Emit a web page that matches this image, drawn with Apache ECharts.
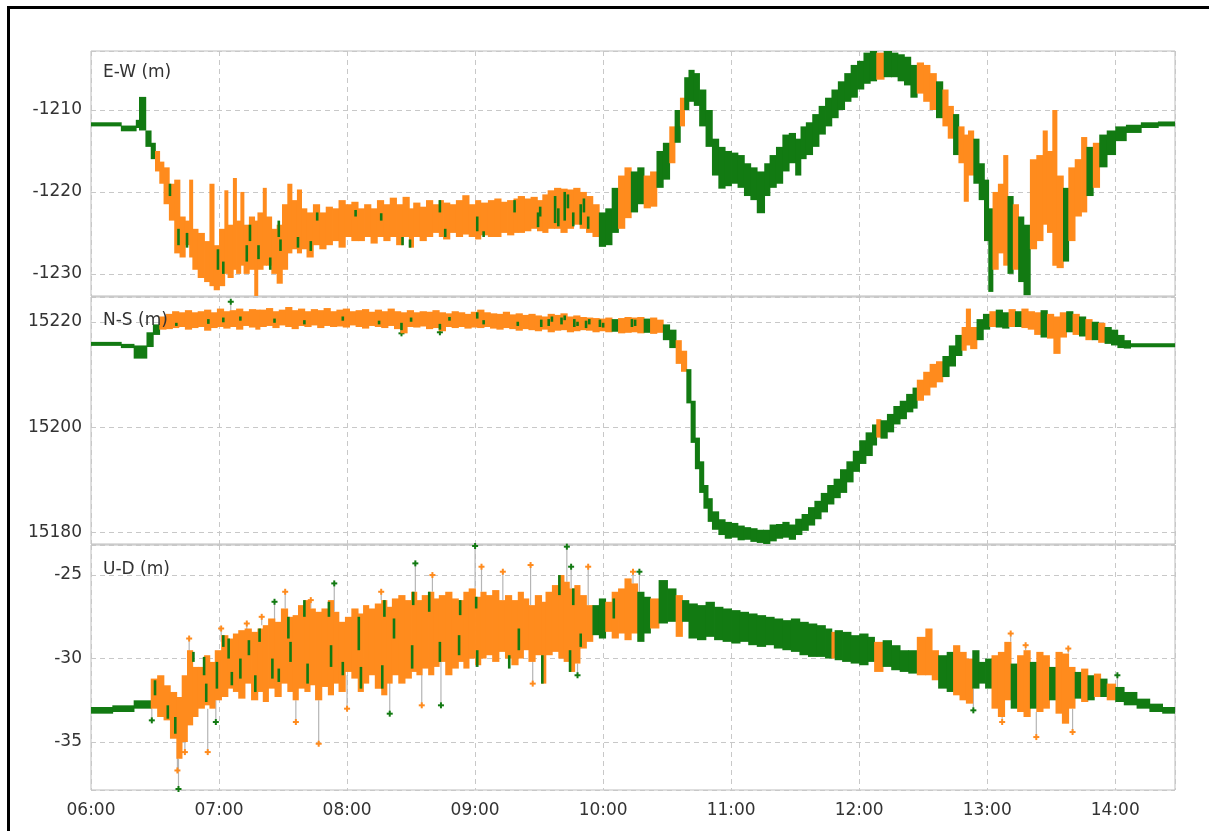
<!DOCTYPE html>
<html><head><meta charset="utf-8">
<script src="https://cdn.jsdelivr.net/npm/echarts@6/dist/echarts.min.js"></script>
<style>html,body{margin:0;padding:0;background:#fff;}#c{width:1209px;height:831px;}</style>
</head><body><div id="c"></div>
<script>
// ---- data ----
const START_HOUR = 6;
const X_MAX = 508; // minutes after 06:00 (= 14:28)
const panelNames = ['E-W (m)', 'N-S (m)', 'U-D (m)'];
const yRanges = [[-1232.7, -1202.8], [15177.8, 15224.7], [-37.87, -23.2]];
const ySplits = [3, 2, 3];

// bins: [start minute, low, high, fixed(1=green / 0=orange)]
const ewBins = [
[0,-1212.0,-1211.5,1],[14,-1212.6,-1211.9,1],[21,-1212.2,-1211.2,1],[22.5,-1212.0,-1208.4,1],
[25.5,-1214.5,-1212.5,1],[28,-1216.0,-1214.0,1],[30,-1217.5,-1215.0,0],[32,-1219.0,-1216.3,0],
[34,-1221.5,-1217.0,0],[36.5,-1223.5,-1219.0,0],[39,-1227.5,-1218.5,0],[41.5,-1228.0,-1223.0,0],
[44,-1226.5,-1223.5,0],[46,-1228.0,-1218.5,0],[47.5,-1229.5,-1224.5,0],[50,-1230.5,-1225.0,0],
[53,-1231.0,-1226.0,0],[55.5,-1231.5,-1219.0,0],[57.5,-1232.0,-1226.5,0],[60,-1231.5,-1224.5,0],
[62.5,-1230.0,-1219.8,0],[64,-1230.5,-1224.0,0],[66.5,-1229.5,-1218.3,0],[68,-1230.0,-1223.5,0],
[70,-1229.0,-1220.0,0],[71.5,-1230.0,-1224.0,0],[74,-1229.5,-1223.0,0],[76.5,-1232.8,-1223.5,0],
[78,-1229.5,-1222.5,0],[80.5,-1229.0,-1219.5,0],[82,-1229.0,-1223.0,0],[84.5,-1230.0,-1224.5,0],
[87,-1231.2,-1224.0,0],[89.5,-1229.5,-1221.5,0],[92,-1227.5,-1219.0,0],[94,-1227.0,-1221.0,0],
[96.5,-1227.5,-1219.7,0],[98.5,-1227.0,-1222.0,0],[101,-1228.0,-1222.5,0],[104,-1226.5,-1221.5,0],
[107,-1227.0,-1222.5,0],[110,-1226.5,-1221.8,0],[113,-1226.0,-1222.0,0],[116,-1226.8,-1221.0,0],
[119,-1225.5,-1221.5,0],[122,-1226.0,-1221.2,0],[125,-1226.0,-1222.0,0],[128,-1225.5,-1221.5,0],
[131,-1226.3,-1222.0,0],[134,-1225.5,-1221.0,0],[137,-1226.0,-1221.5,0],[140,-1225.5,-1220.7,0],
[143,-1226.5,-1221.5,0],[146,-1225.5,-1220.6,0],[149,-1226.8,-1222.0,0],[151,-1225.5,-1221.3,0],
[154,-1226.0,-1221.8,0],[157,-1225.5,-1221.0,0],[160,-1225.0,-1221.5,0],[163,-1225.5,-1221.0,0],
[165,-1225.8,-1221.3,0],[168,-1225.0,-1221.5,0],[171,-1225.5,-1221.0,0],[174,-1225.2,-1220.4,0],
[177,-1225.5,-1221.5,0],[180,-1225.8,-1221.0,0],[182.5,-1225.3,-1221.3,0],[186,-1225.5,-1221.0,0],
[189,-1225.5,-1220.8,0],[192,-1225.0,-1221.2,0],[195,-1225.3,-1221.0,0],[198,-1225.0,-1220.8,0],
[200,-1225.0,-1220.5,0],[203,-1224.8,-1220.8,0],[206,-1224.5,-1220.6,0],[209,-1224.8,-1221.0,0],
[211.5,-1225.0,-1220.3,0],[214,-1224.5,-1219.8,0],[217,-1224.5,-1219.5,0],[220,-1225.0,-1219.6,0],
[223,-1224.5,-1219.7,0],[226,-1224.0,-1219.5,0],[229,-1224.5,-1220.0,0],[232,-1225.0,-1220.5,0],
[235,-1225.5,-1221.5,0],[238,-1226.7,-1222.5,1],[241,-1226.5,-1222.0,1],[244,-1225.0,-1219.5,1],
[247,-1224.5,-1218.0,0],[250,-1223.2,-1217.0,0],[253,-1222.5,-1217.5,1],[256,-1221.5,-1217.0,1],
[259,-1222.0,-1218.0,0],[262,-1221.8,-1217.5,0],[265,-1219.5,-1215.0,1],[268,-1218.5,-1214.0,1],
[271,-1216.5,-1212.0,0],[273.5,-1214.0,-1210.0,1],[276,-1212.0,-1208.5,0],[278,-1210.0,-1206.0,1],
[280,-1209.0,-1205.1,1],[282.5,-1209.5,-1205.5,1],[285,-1212.0,-1207.5,1],[288,-1214.5,-1210.0,1],
[291,-1218.0,-1213.5,1],[294,-1219.6,-1214.5,1],[297,-1219.3,-1215.0,1],[300,-1219.0,-1215.2,1],
[303,-1219.5,-1215.5,1],[306,-1220.5,-1216.5,1],[309,-1221.0,-1217.0,1],[312,-1222.6,-1217.5,1],
[315.5,-1220.5,-1216.5,1],[318,-1219.5,-1215.5,1],[321,-1219.0,-1214.5,1],[324,-1217.5,-1213.0,1],
[327,-1216.5,-1212.8,1],[330,-1218.0,-1213.5,1],[332.5,-1216.0,-1212.0,1],[335,-1215.5,-1211.5,1],
[338,-1214.5,-1210.5,1],[341,-1213.0,-1209.5,1],[344,-1212.0,-1208.5,1],[347,-1211.0,-1207.5,1],
[350,-1210.0,-1206.5,1],[353,-1209.0,-1205.5,1],[356,-1208.5,-1204.5,1],[359,-1207.5,-1204.0,1],
[362,-1206.8,-1203.0,1],[365,-1206.5,-1202.8,1],[368,-1206.3,-1203.0,0],[371.5,-1206.0,-1202.8,1],
[375,-1206.0,-1203.0,1],[378,-1206.5,-1203.2,1],[381,-1207.0,-1203.5,1],[384,-1208.5,-1204.5,1],
[387,-1208.0,-1204.2,0],[390,-1209.0,-1204.5,0],[393,-1210.0,-1205.5,0],[396,-1211.0,-1206.5,1],
[399,-1212.0,-1207.5,0],[401.5,-1213.5,-1209.5,0],[404,-1215.5,-1210.5,1],[406.5,-1216.5,-1212.0,0],
[409,-1221.2,-1213.0,0],[411,-1218.0,-1212.5,0],[413.5,-1219.0,-1213.5,1],[416,-1221.0,-1216.5,1],
[418.5,-1226.0,-1218.5,1],[420.5,-1232.2,-1222.0,1],[422.5,-1229.5,-1220.0,0],[425,-1227.5,-1219.0,0],
[427.5,-1229.0,-1215.5,0],[429.5,-1230.0,-1220.5,1],[432,-1229.5,-1221.5,0],[434.5,-1231.0,-1223.0,1],
[437,-1232.6,-1224.0,1],[440,-1227.0,-1216.0,0],[443,-1226.0,-1215.5,0],[446,-1224.0,-1212.5,0],
[448,-1225.0,-1215.0,0],[450.5,-1229.0,-1210.0,0],[452.5,-1229.3,-1218.0,0],[455.5,-1228.5,-1219.5,1],
[458,-1226.0,-1217.0,0],[461,-1223.0,-1216.0,0],[464,-1222.5,-1213.3,0],[466.5,-1220.5,-1214.5,1],
[469.5,-1219.5,-1214.0,0],[472.5,-1217.0,-1213.0,1],[476,-1215.5,-1212.5,1],[480,-1213.8,-1212.0,1],
[485,-1212.8,-1211.8,1],[492,-1212.2,-1211.5,1],[500,-1212.0,-1211.4,1]
];
// fixed (green) epochs inside float stretches: [minute, low, high]
const ewFixSegs = [
[37,-1220.5,-1219.0],[41,-1226.5,-1224.5],[45,-1226.8,-1225.0],[59.5,-1229.5,-1227.0],[62,-1230.0,-1228.5],
[73,-1228.5,-1226.5],[74.5,-1226.0,-1224.0],[78.5,-1228.2,-1226.5],[84,-1229.5,-1228.0],[88,-1225.5,-1223.5],
[88.8,-1227.2,-1225.8],[97,-1226.8,-1225.5],[103,-1227.2,-1226.0],[106,-1223.5,-1222.5],[124,-1223.0,-1222.2],
[136,-1223.5,-1222.6],[146,-1226.5,-1225.5],[149.5,-1226.8,-1225.8],[163.5,-1222.5,-1221.0],[166,-1225.5,-1224.5],
[181,-1224.8,-1223.0],[184,-1225.5,-1224.8],[198.5,-1222.5,-1221.0],[209.5,-1224.3,-1222.5],[210.5,-1223.0,-1221.8],
[217.5,-1223.8,-1220.5],[219,-1224.2,-1222.0],[222,-1223.5,-1220.0],[223.5,-1222.0,-1220.3],[226,-1224.2,-1222.5],
[229.5,-1224.0,-1221.5],[231,-1222.5,-1220.8],[233,-1224.5,-1223.0]
];

const nsBins = [
[0,15215.5,15216.1,1],[14,15215.0,15215.8,1],[20,15213.0,15215.5,1],[26,15215.2,15218.0,1],
[29,15217.5,15219.5,1],[32,15218.5,15221.0,0],[35,15218.6,15221.5,0],[38,15218.8,15222.0,0],
[41,15219.0,15221.8,0],[44,15218.5,15222.2,0],[47,15218.8,15221.8,0],[50,15219.0,15222.0,0],
[53,15218.3,15222.3,0],[56,15218.8,15221.8,0],[59,15219.0,15222.5,0],[62,15218.7,15222.0,0],
[65,15219.0,15222.2,0],[68,15218.5,15222.5,0],[71,15219.2,15222.0,0],[74,15218.9,15222.4,0],
[77,15218.5,15222.3,0],[79,15219.0,15222.3,0],[82,15219.2,15222.6,0],[85,15218.8,15222.0,0],
[88,15219.3,15222.3,0],[91,15219.0,15222.8,0],[94,15218.6,15222.2,0],[97,15219.2,15222.5,0],
[100,15219.0,15222.0,0],[103,15219.3,15222.4,0],[106,15218.8,15222.2,0],[109,15219.2,15222.6,0],
[112,15219.0,15222.0,0],[115,15219.1,15222.3,0],[118,15218.9,15222.5,0],[121,15219.3,15222.0,0],
[124,15219.0,15222.2,0],[127,15218.7,15222.4,0],[130,15219.2,15221.9,0],[133,15219.0,15222.3,0],
[136,15218.8,15222.0,0],[139,15219.2,15222.5,0],[142,15218.6,15222.0,0],[145,15217.8,15221.8,0],
[148,15219.0,15222.2,0],[151,15218.9,15221.8,0],[154,15219.1,15222.0,0],[157,15218.6,15221.9,0],
[160,15218.8,15222.2,0],[163,15218.2,15221.8,0],[166,15219.0,15221.6,0],[169,15218.8,15222.0,0],
[172,15219.0,15221.8,0],[175,15218.7,15221.5,0],[178,15218.9,15221.9,0],[181,15218.8,15222.3,0],
[184,15219.0,15221.8,0],[187,15218.7,15221.6,0],[190,15218.5,15221.5,0],[193,15218.8,15221.9,0],
[196,15218.6,15221.4,0],[199,15218.3,15221.6,0],[202,15218.6,15221.3,0],[205,15218.4,15221.5,0],
[208,15218.2,15221.2,0],[211,15218.5,15221.0,0],[214,15218.0,15221.5,0],[217,15218.3,15221.3,0],
[220,15218.4,15221.6,0],[223,15218.0,15221.0,0],[226,15218.2,15221.2,0],[229,15218.4,15220.9,0],
[232,15218.3,15220.8,0],[235,15218.0,15220.7,0],[238,15218.2,15220.6,0],[241,15218.0,15220.8,0],
[244,15218.1,15220.5,1],[247,15217.8,15220.7,0],[250,15217.9,15220.9,0],[253,15218.0,15220.8,0],
[256,15217.8,15220.9,0],[259,15217.9,15220.6,1],[262,15217.7,15220.8,0],[265,15217.9,15220.4,0],
[268,15216.5,15219.5,1],[271,15215.0,15218.5,1],[274,15212.0,15216.5,0],[276.5,15210.5,15214.5,0],
[279,15204.5,15211.0,1],[281,15197.0,15205.0,1],[283,15192.0,15198.0,1],[285,15187.5,15193.5,1],
[287,15184.5,15189.0,1],[289,15182.0,15186.5,1],[291,15180.5,15184.0,1],[294,15179.5,15182.5,1],
[297,15178.8,15182.0,1],[300,15179.0,15181.8,1],[303,15178.5,15181.3,1],[306,15178.6,15181.0,1],
[309,15178.2,15180.8,1],[312,15178.0,15180.5,1],[315,15177.6,15180.5,1],[318,15178.3,15181.5,1],
[321,15178.8,15181.6,1],[324,15179.0,15182.0,1],[327,15178.6,15181.5,1],[330,15179.5,15182.6,1],
[333,15180.3,15183.5,1],[336,15181.3,15184.8,1],[339,15182.5,15186.0,1],[342,15183.8,15187.5,1],
[345,15185.3,15189.0,1],[348,15186.5,15190.2,1],[351,15187.5,15192.0,1],[354,15189.5,15193.5,1],
[357,15191.5,15195.5,1],[360,15193.0,15197.5,1],[363,15194.5,15199.0,1],[366,15196.5,15200.5,1],
[368,15198.0,15201.5,0],[370,15197.8,15201.3,1],[373,15199.0,15202.5,1],[376,15200.5,15204.0,1],
[379,15201.5,15205.0,1],[382,15202.8,15206.3,1],[385,15203.5,15207.5,1],[387,15205.0,15209.0,0],
[390,15206.0,15210.5,0],[393,15207.5,15212.0,0],[396,15208.5,15212.5,0],[399,15209.5,15213.5,1],
[402,15211.5,15215.5,1],[405,15213.5,15217.5,1],[408,15214.5,15219.0,0],[410,15215.5,15222.5,0],
[412,15214.8,15219.0,0],[415,15216.5,15220.5,1],[418,15218.5,15221.5,1],[421,15219.0,15222.0,0],
[424,15218.9,15222.3,1],[427,15218.7,15221.8,1],[430,15219.0,15222.4,0],[433,15219.0,15222.0,1],
[436,15218.8,15222.5,0],[439,15218.5,15222.0,0],[442,15217.5,15221.8,0],[445,15217.0,15222.2,1],
[448,15216.8,15221.5,0],[451,15213.9,15221.0,0],[454,15217.0,15221.8,0],[457,15218.0,15222.0,1],
[460,15217.5,15221.5,0],[463,15217.2,15221.0,1],[466,15216.5,15220.5,0],[469,15216.5,15220.0,1],
[472,15216.0,15219.8,0],[475,15215.8,15219.0,1],[478,15215.5,15218.5,1],[481,15215.0,15217.5,1],
[484,15214.9,15216.5,1],[487,15215.2,15215.9,1]
];
const nsFixSegs = [
[40,15219.2,15219.8],[55,15219.6,15220.5],[62,15219.9,15220.8],[70,15220.2,15221.0],[86,15219.8,15220.6],
[100,15219.5,15220.3],[118,15220.2,15221.0],[135,15219.5,15220.2],[145.5,15218.4,15219.8],[150,15220.0,15220.8],
[163.5,15218.5,15219.6],[168,15220.2,15220.9],[181,15220.6,15221.8],[184,15219.5,15220.3],[200,15219.2,15220.0],
[211,15219.0,15220.4],[214.5,15219.2,15220.5],[216,15220.0,15221.0],[220.5,15219.5,15220.8],[222,15220.3,15221.2],
[226.5,15219.0,15220.5],[228,15219.2,15220.0],[232,15218.8,15220.2],[233.5,15219.5,15220.5],[238.5,15219.0,15220.4],
[240,15218.9,15219.8],[253.5,15219.0,15220.5],[255,15219.2,15220.4],[261,15219.0,15219.8]
];

const udBins = [
[0,-33.3,-32.9,1],[10,-33.2,-32.8,1],[20,-33.0,-32.5,1],[28,-33.0,-31.2,0],[31,-33.5,-31.0,0],
[34,-33.7,-31.6,0],[37,-34.8,-32.0,0],[40,-36.0,-32.3,0],[42.5,-35.0,-31.0,0],[45,-34.0,-29.5,0],
[47.5,-33.5,-30.5,0],[50,-33.0,-30.5,0],[53,-32.8,-29.8,0],[55.5,-33.0,-30.2,0],[58,-32.5,-29.5,0],
[61,-32.3,-28.6,0],[64,-31.8,-28.8,0],[66.5,-32.0,-28.5,0],[69,-32.4,-28.3,0],[72,-31.5,-28.2,0],
[75,-32.5,-28.4,0],[78,-32.0,-28.2,0],[80.5,-32.6,-28.0,0],[83,-31.8,-27.6,0],[86,-32.3,-27.8,0],
[89,-31.5,-27.0,0],[92,-32.0,-27.5,0],[94.5,-32.5,-27.4,0],[97,-31.8,-26.8,0],[100,-32.0,-26.5,0],
[102.5,-31.6,-27.0,0],[105,-32.5,-27.2,0],[108,-31.7,-27.0,0],[111,-32.2,-26.5,0],[113.5,-31.5,-27.2,0],
[116,-32.0,-27.8,0],[119,-30.8,-27.5,0],[122,-31.2,-27.0,0],[125,-32.0,-27.3,0],[127.5,-31.5,-26.8,0],
[130,-31.0,-27.0,0],[133,-31.8,-26.7,0],[136,-32.2,-26.5,0],[138.5,-31.5,-26.9,0],[141,-31.0,-26.4,0],
[144,-31.5,-26.2,0],[147,-31.2,-26.5,0],[150,-30.8,-26.0,0],[152.5,-31.0,-26.5,0],[155,-30.6,-26.2,0],
[158,-31.0,-26.0,0],[160.5,-30.5,-26.4,0],[163,-30.2,-26.2,0],[166,-31.0,-26.0,0],[169,-30.6,-26.4,0],
[172,-30.2,-26.5,0],[174.5,-30.6,-26.0,0],[177,-30.0,-25.8,0],[180,-30.4,-26.3,0],[182.5,-30.0,-26.0,0],
[185,-29.8,-26.2,0],[188,-30.2,-25.9,0],[191,-29.6,-26.5,0],[194,-30.0,-26.2,0],[197,-30.4,-26.5,0],
[200,-30.0,-26.0,0],[202.5,-29.5,-26.4,0],[205,-30.2,-26.8,0],[208,-29.8,-26.2,0],[211,-31.5,-26.6,0],
[213,-29.8,-26.0,0],[216,-29.6,-25.6,0],[219,-30.0,-25.0,0],[221.5,-30.2,-25.4,0],[224,-30.8,-25.8,0],
[226.5,-30.3,-25.6,0],[229,-29.4,-26.2,0],[232,-29.0,-26.8,0],[235,-28.6,-26.8,1],[238,-28.8,-26.4,1],
[241,-28.4,-26.6,0],[244,-28.8,-26.0,0],[247,-28.5,-25.8,0],[250,-28.9,-25.2,0],[253,-28.5,-25.5,0],
[256,-29.0,-26.0,1],[259,-28.5,-26.3,1],[262,-28.2,-26.4,0],[266,-27.9,-25.3,1],[270,-27.8,-25.8,1],
[274,-28.7,-26.2,0],[277,-27.8,-26.5,1],[280,-28.8,-26.7,1],[284,-28.9,-26.8,1],[288,-28.7,-26.6,1],
[292,-28.9,-26.9,1],[296,-29.0,-27.0,1],[300,-29.1,-27.1,1],[304,-29.0,-27.2,1],[308,-29.2,-27.3,1],
[312,-29.3,-27.4,1],[316,-29.2,-27.5,1],[320,-29.4,-27.6,1],[324,-29.5,-27.7,1],[328,-29.6,-27.6,1],
[332,-29.8,-27.8,1],[336,-29.9,-27.9,1],[340,-29.9,-28.0,1],[344,-30.0,-28.2,1],[347,-30.0,-28.4,0],
[348.5,-30.1,-28.3,1],[352,-30.2,-28.4,1],[356,-30.3,-28.6,1],[360,-30.4,-28.5,1],[364,-30.2,-28.7,1],
[367,-30.8,-29.0,0],[371,-30.5,-28.9,1],[375,-30.7,-29.2,1],[379,-30.8,-29.5,1],[383,-30.9,-29.5,1],
[387,-31.0,-28.7,0],[391,-31.0,-28.2,0],[394,-31.3,-29.5,0],[397,-31.8,-29.8,1],[401,-32.0,-29.6,1],
[404,-32.2,-29.2,0],[407,-32.5,-29.6,0],[410,-32.7,-30.0,0],[413,-31.8,-29.5,1],[416,-31.5,-30.2,1],
[419,-31.8,-30.0,1],[422,-33.0,-29.8,0],[425,-33.5,-29.6,0],[428,-32.5,-29.0,0],[431,-33.0,-30.3,1],
[434,-33.2,-29.8,0],[437,-33.5,-29.5,0],[440,-33.0,-30.2,1],[443,-33.2,-29.6,0],[446,-33.0,-29.8,0],
[449,-32.5,-30.5,1],[452,-33.3,-29.6,0],[455,-33.9,-29.7,0],[458,-33.0,-30.5,0],[461,-32.4,-30.8,1],
[464,-32.6,-30.6,0],[467,-32.5,-31.0,1],[470,-32.3,-30.9,0],[473,-32.3,-31.2,1],[476,-32.5,-31.5,0],
[480,-32.6,-31.7,1],[484,-32.8,-32.0,1],[490,-33.0,-32.4,1],[496,-33.2,-32.7,1],[502,-33.3,-32.9,1]
];
const udFixSegs = [
[30,-32.2,-31.3],[36,-33.6,-32.8],[39.5,-34.5,-33.5],[48,-30.2,-29.6],[53,-31.0,-29.9],[54,-32.6,-31.5],
[59,-31.8,-30.2],[62,-29.3,-28.6],[64.5,-30.0,-28.8],[66,-31.6,-30.8],[70,-31.2,-30.0],[74,-29.8,-28.9],
[77,-32.0,-31.0],[79,-29.0,-28.2],[85,-31.2,-30.0],[88,-31.4,-30.6],[92.5,-28.8,-27.5],[93.5,-30.2,-29.0],
[100,-27.5,-26.5],[101.5,-31.5,-30.3],[111.5,-27.5,-26.6],[112.5,-30.5,-29.2],[118,-31.0,-30.2],[125.5,-29.5,-27.5],
[126.5,-31.8,-30.5],[136.5,-31.8,-30.4],[137.5,-27.5,-26.5],[142,-28.8,-27.6],[150.5,-30.6,-29.2],[151,-26.8,-26.0],
[158.5,-27.2,-26.0],[163.5,-30.2,-29.0],[172.5,-29.8,-28.6],[173,-27.4,-26.5],[180.5,-27.0,-26.3],[181,-30.5,-29.5],
[196,-30.6,-29.8],[200.5,-29.5,-28.2],[211.5,-31.5,-29.8],[219.5,-26.2,-25.0],[224.5,-30.8,-29.5],[226,-26.8,-25.8],
[229.5,-29.3,-28.5],[245,-27.6,-26.4]
];

// isolated outlier points: [minute, value at band edge, outlier value, fixed]
const nsSpikes = [[65.5,15222.2,15223.8,1],[145.5,15218.6,15217.8,1],[163.5,15218.8,15218.0,1]];
const udSpikes = [
[28.5,-33.0,-33.7,1],[41,-36.0,-38.0,1],[40.5,-35.0,-36.7,0],[44,-35.0,-35.6,0],[46,-30.0,-28.8,0],
[54.7,-33.0,-35.6,0],[58.5,-32.5,-33.8,1],[61,-29.0,-28.2,0],[73,-28.5,-27.9,0],[80,-28.0,-27.5,0],
[86,-27.8,-26.6,1],[91,-27.0,-26.0,0],[96,-32.5,-33.8,0],[103,-27.0,-26.5,0],[106.7,-32.5,-35.1,0],
[114,-27.2,-25.5,1],[120,-31.0,-33.0,0],[136,-26.5,-26.0,0],[140,-31.0,-33.3,1],[152,-26.0,-24.3,1],
[155,-30.6,-32.8,0],[160,-26.0,-25.0,0],[164,-30.2,-32.8,1],[180,-25.8,-23.2,1],[183,-26.0,-24.5,0],
[193,-26.5,-24.8,0],[206,-26.8,-24.4,0],[207,-29.8,-31.5,0],[223,-25.4,-23.3,1],[225,-25.8,-24.5,1],
[228,-30.3,-31.0,1],[233,-26.8,-24.5,0],[254,-25.5,-24.8,0],[257,-26.0,-24.8,1],
[413.5,-31.8,-33.1,1],[427,-33.5,-33.8,0],[431,-29.0,-28.5,0],[438,-29.5,-29.2,0],[443,-33.2,-34.7,0],
[458,-29.7,-29.4,0],[460,-33.0,-34.4,0],[481,-31.7,-31.0,1]
];

// ---- rendering ----
const GREEN = '#127a12', ORANGE = '#ff8b1d';
const FONT = 'DejaVu Sans';
const GRIDS = [
  {left: 91, top: 51, width: 1084, height: 245},
  {left: 91, top: 297, width: 1084, height: 247},
  {left: 91, top: 545, width: 1084, height: 245}
];
function pad(n){return (n<10?'0':'')+n;}
function fmtTime(v){const h=START_HOUR+Math.floor(v/60);const m=Math.round(v%60);return pad(h)+':'+pad(m);}
// each item: [t0, t1, low, high, fixed, nextLow, nextHigh]
function toItems(bins){
  return bins.map((b,i)=>{
    const n = bins[i+1];
    return [b[0], n ? n[0] : X_MAX, b[1], b[2], b[3], n ? n[1] : b[1], n ? n[2] : b[2]];
  });
}
function clipTo(params, r){
  const cs = params.coordSys;
  return echarts.graphic.clipRectByRect(r, {x: cs.x, y: cs.y, width: cs.width, height: cs.height});
}
function binItem(params, api){
  let lo = api.value(2), hi = api.value(3);
  const nlo = api.value(5), nhi = api.value(6);
  if (nlo > hi) hi = nlo;
  if (nhi < lo) lo = nhi;
  const a = api.coord([api.value(0), hi]);
  const b = api.coord([api.value(1), lo]);
  let y0 = a[1], y1 = b[1];
  if (y1 - y0 < 4) { const c = (y0 + y1) / 2; y0 = c - 2; y1 = c + 2; }
  const shape = clipTo(params, {x: a[0], y: y0, width: b[0] - a[0] + 0.8, height: y1 - y0});
  if (!shape) return;
  return {type: 'rect', shape: shape, style: {fill: api.value(4) ? GREEN : ORANGE}};
}
function segItem(params, api){
  const a = api.coord([api.value(0), Math.max(api.value(1), api.value(2))]);
  const b = api.coord([api.value(0), Math.min(api.value(1), api.value(2))]);
  const shape = clipTo(params, {x: a[0] - 1.3, y: a[1], width: 2.6, height: Math.max(3, b[1] - a[1])});
  if (!shape) return;
  return {type: 'rect', shape: shape, style: {fill: GREEN}};
}
function spikeItem(params, api){
  const p = api.coord([api.value(0), api.value(1)]);
  const q = api.coord([api.value(0), api.value(2)]);
  const cs = params.coordSys;
  const qy = Math.max(cs.y + 1, Math.min(cs.y + cs.height - 1, q[1]));
  const col = api.value(3) ? GREEN : ORANGE;
  return {type: 'group', children: [
    {type: 'line', shape: {x1: p[0], y1: p[1], x2: q[0], y2: qy}, style: {stroke: '#b5b5b5', lineWidth: 1.2}},
    {type: 'line', shape: {x1: q[0]-3, y1: qy, x2: q[0]+3, y2: qy}, style: {stroke: col, lineWidth: 2}},
    {type: 'line', shape: {x1: q[0], y1: qy-3, x2: q[0], y2: qy+3}, style: {stroke: col, lineWidth: 2}}
  ]};
}
const dashed = {show: true, lineStyle: {color: '#c8c8c8', type: [5, 4], width: 1}};
const binEncode = {x: [0,1], y: [2,3]};
const option = {
  backgroundColor: '#fff',
  animation: false,
  grid: GRIDS.map(g => Object.assign({show: true, backgroundColor: '#fff', borderColor: '#bdbdbd', borderWidth: 1, containLabel: false}, g)),
  xAxis: [0,1,2].map(i => ({
    type: 'value', gridIndex: i, min: 0, max: X_MAX, interval: 60,
    axisLine: {show: false}, axisTick: {show: false},
    axisLabel: {show: i === 2, formatter: fmtTime, showMaxLabel: false, showMinLabel: true,
      fontFamily: FONT, fontSize: 17, color: '#333', margin: 12},
    splitLine: dashed
  })),
  yAxis: [0,1,2].map(i => ({
    type: 'value', gridIndex: i, min: yRanges[i][0], max: yRanges[i][1], splitNumber: ySplits[i],
    axisLine: {show: false}, axisTick: {show: false},
    axisLabel: {showMinLabel: false, showMaxLabel: false, formatter: v => String(v),
      fontFamily: FONT, fontSize: 17, color: '#333', margin: 9},
    splitLine: dashed
  })),
  graphic: [
    {type: 'rect', left: 6, top: 5, shape: {x: 0, y: 0, width: 1215, height: 840}, style: {fill: 'none', stroke: '#000', lineWidth: 3}, z: 100},
  ].concat(panelNames.map((n, i) => ({
    type: 'text', left: 103, top: [64, 312, 561][i], z: 50,
    style: {text: n, font: '17px "' + FONT + '"', fill: '#333'}
  }))),
  series: [
    {type: 'custom', xAxisIndex: 0, yAxisIndex: 0, renderItem: binItem, encode: binEncode, data: toItems(ewBins)},
    {type: 'custom', xAxisIndex: 0, yAxisIndex: 0, renderItem: segItem, encode: {x: 0, y: [1,2]}, data: ewFixSegs},
    {type: 'custom', xAxisIndex: 1, yAxisIndex: 1, renderItem: spikeItem, encode: {x: 0, y: [1,2]}, data: nsSpikes},
    {type: 'custom', xAxisIndex: 1, yAxisIndex: 1, renderItem: binItem, encode: binEncode, data: toItems(nsBins)},
    {type: 'custom', xAxisIndex: 1, yAxisIndex: 1, renderItem: segItem, encode: {x: 0, y: [1,2]}, data: nsFixSegs},
    {type: 'custom', xAxisIndex: 2, yAxisIndex: 2, renderItem: spikeItem, encode: {x: 0, y: [1,2]}, data: udSpikes},
    {type: 'custom', xAxisIndex: 2, yAxisIndex: 2, renderItem: binItem, encode: binEncode, data: toItems(udBins)},
    {type: 'custom', xAxisIndex: 2, yAxisIndex: 2, renderItem: segItem, encode: {x: 0, y: [1,2]}, data: udFixSegs}
  ]
};
const chart = echarts.init(document.getElementById('c'), null, {renderer: 'canvas'});
chart.setOption(option);
</script></body></html>
